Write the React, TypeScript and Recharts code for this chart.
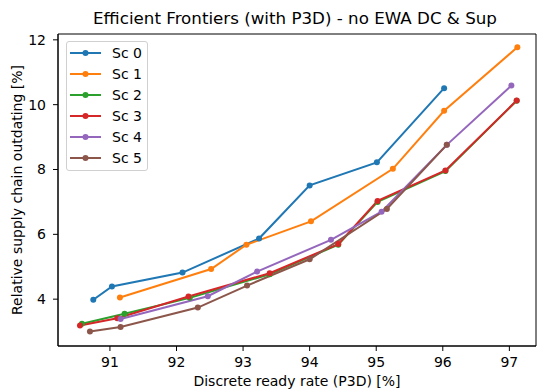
import React from "react";
import { LineChart, Line, XAxis, YAxis, Legend, ReferenceArea } from "recharts";

// Efficient frontier per scenario: ready rate (P3D) [%] vs. supply chain outdating [%]
const sc0X = [90.75, 91.03, 92.09, 93.24, 94.0, 95.01, 96.02];
const sc0Y = [3.98, 4.39, 4.82, 5.87, 7.51, 8.22, 10.51];

const sc1X = [91.15, 92.52, 93.05, 94.02, 95.25, 96.02, 97.12];
const sc1Y = [4.05, 4.93, 5.68, 6.4, 8.02, 9.81, 11.77];

const sc2X = [90.58, 91.22, 92.2, 93.4, 94.43, 95.02, 96.04, 97.11];
const sc2Y = [3.24, 3.55, 4.04, 4.77, 5.68, 7.0, 7.95, 10.12];

const sc3X = [90.55, 91.11, 92.18, 93.4, 94.43, 95.02, 96.04, 97.11];
const sc3Y = [3.19, 3.41, 4.08, 4.8, 5.7, 7.03, 7.97, 10.13];

const sc4X = [91.16, 92.47, 93.21, 94.32, 95.08, 96.06, 97.03];
const sc4Y = [3.39, 4.09, 4.85, 5.83, 6.7, 8.76, 10.59];

const sc5X = [90.7, 91.16, 92.32, 93.06, 94.0, 95.16, 96.06];
const sc5Y = [3.0, 3.14, 3.74, 4.42, 5.23, 6.78, 8.76];

const seriesNames = ["Sc 0", "Sc 1", "Sc 2", "Sc 3", "Sc 4", "Sc 5"];
const seriesColors = ["#1f77b4", "#ff7f0e", "#2ca02c", "#d62728", "#9467bd", "#8c564b"];
const seriesX = [sc0X, sc1X, sc2X, sc3X, sc4X, sc5X];
const seriesY = [sc0Y, sc1Y, sc2Y, sc3Y, sc4Y, sc5Y];

const xTicks = [91, 92, 93, 94, 95, 96, 97];
const yTicks = [4, 6, 8, 10, 12];
const xDomain: [number, number] = [90.22, 97.4];
const yDomain: [number, number] = [2.555, 12.18];

const FONT = "DejaVu Sans";

const series = seriesNames.map((name, i) => ({
  name,
  color: seriesColors[i],
  data: seriesX[i].map((x, j) => ({ x, y: seriesY[i][j] })),
}));

const LegendBox = (props: any) => {
  const payload = props.payload || [];
  return (
    <div
      style={{
        border: "1px solid #d0d0d0",
        borderRadius: 3,
        background: "rgba(255,255,255,0.8)",
        padding: "0 5px 2px 2px",
        fontFamily: FONT,
        fontSize: 14,
        color: "#000",
      }}
    >
      {payload.map((p: any) => (
        <div key={p.value} style={{ display: "flex", alignItems: "center", height: 21 }}>
          <svg width={33} height={10} style={{ marginRight: 10 }}>
            <line x1={1} y1={5} x2={32} y2={5} stroke={p.color} strokeWidth={2} />
            <circle cx={16.5} cy={5} r={3} fill={p.color} />
          </svg>
          <span>{p.value}</span>
        </div>
      ))}
    </div>
  );
};

export default function App() {
  return (
    <div style={{ position: "absolute", left: 0, top: 0, width: 537, height: 392, background: "#fff" }}>
      <LineChart
        width={537}
        height={392}
        margin={{ top: 34, right: 1, bottom: 0, left: 0 }}
      >
        <XAxis
          type="number"
          dataKey="x"
          domain={xDomain}
          ticks={xTicks}
          allowDataOverflow
          height={46}
          tickSize={5}
          tickMargin={6}
          stroke="#000"
          tick={{ fill: "#000", fontSize: 14, fontFamily: FONT }}
          axisLine={{ stroke: "#000", strokeWidth: 1 }}
          tickLine={{ stroke: "#000" }}
        />
        <YAxis
          type="number"
          dataKey="y"
          domain={yDomain}
          ticks={yTicks}
          allowDataOverflow
          width={58}
          tickSize={5}
          tickMargin={7}
          stroke="#000"
          tick={{ fill: "#000", fontSize: 14, fontFamily: FONT }}
          axisLine={{ stroke: "#000", strokeWidth: 1 }}
          tickLine={{ stroke: "#000" }}
        />
        {/* plot frame (top and right spines) */}
        <ReferenceArea
          x1={xDomain[0]}
          x2={xDomain[1]}
          y1={yDomain[0]}
          y2={yDomain[1]}
          fill="none"
          fillOpacity={0}
          stroke="#000"
          strokeWidth={1}
          ifOverflow="visible"
        />
        <Legend
          layout="vertical"
          align="center"
          verticalAlign="middle"
          content={<LegendBox />}
          wrapperStyle={{ left: 66, top: 41, width: "auto", height: "auto" }}
        />
        {series.map((s) => (
          <Line
            key={s.name}
            name={s.name}
            data={s.data}
            dataKey="y"
            type="linear"
            stroke={s.color}
            strokeWidth={2}
            dot={{ r: 3, fill: s.color, stroke: s.color, strokeWidth: 0 }}
            activeDot={false}
            isAnimationActive={false}
          />
        ))}
        <text
          x={295}
          y={24}
          textAnchor="middle"
          fontFamily={FONT}
          fontSize={16.7}
          fill="#000"
        >
          Efficient Frontiers (with P3D) - no EWA DC &amp; Sup
        </text>
        <text
          x={297}
          y={386}
          textAnchor="middle"
          fontFamily={FONT}
          fontSize={14}
          fill="#000"
        >
          Discrete ready rate (P3D) [%]
        </text>
        <text
          x={22}
          y={190}
          textAnchor="middle"
          fontFamily={FONT}
          fontSize={14}
          fill="#000"
          transform="rotate(-90 22 190)"
        >
          Relative supply chain outdating [%]
        </text>
      </LineChart>
    </div>
  );
}
